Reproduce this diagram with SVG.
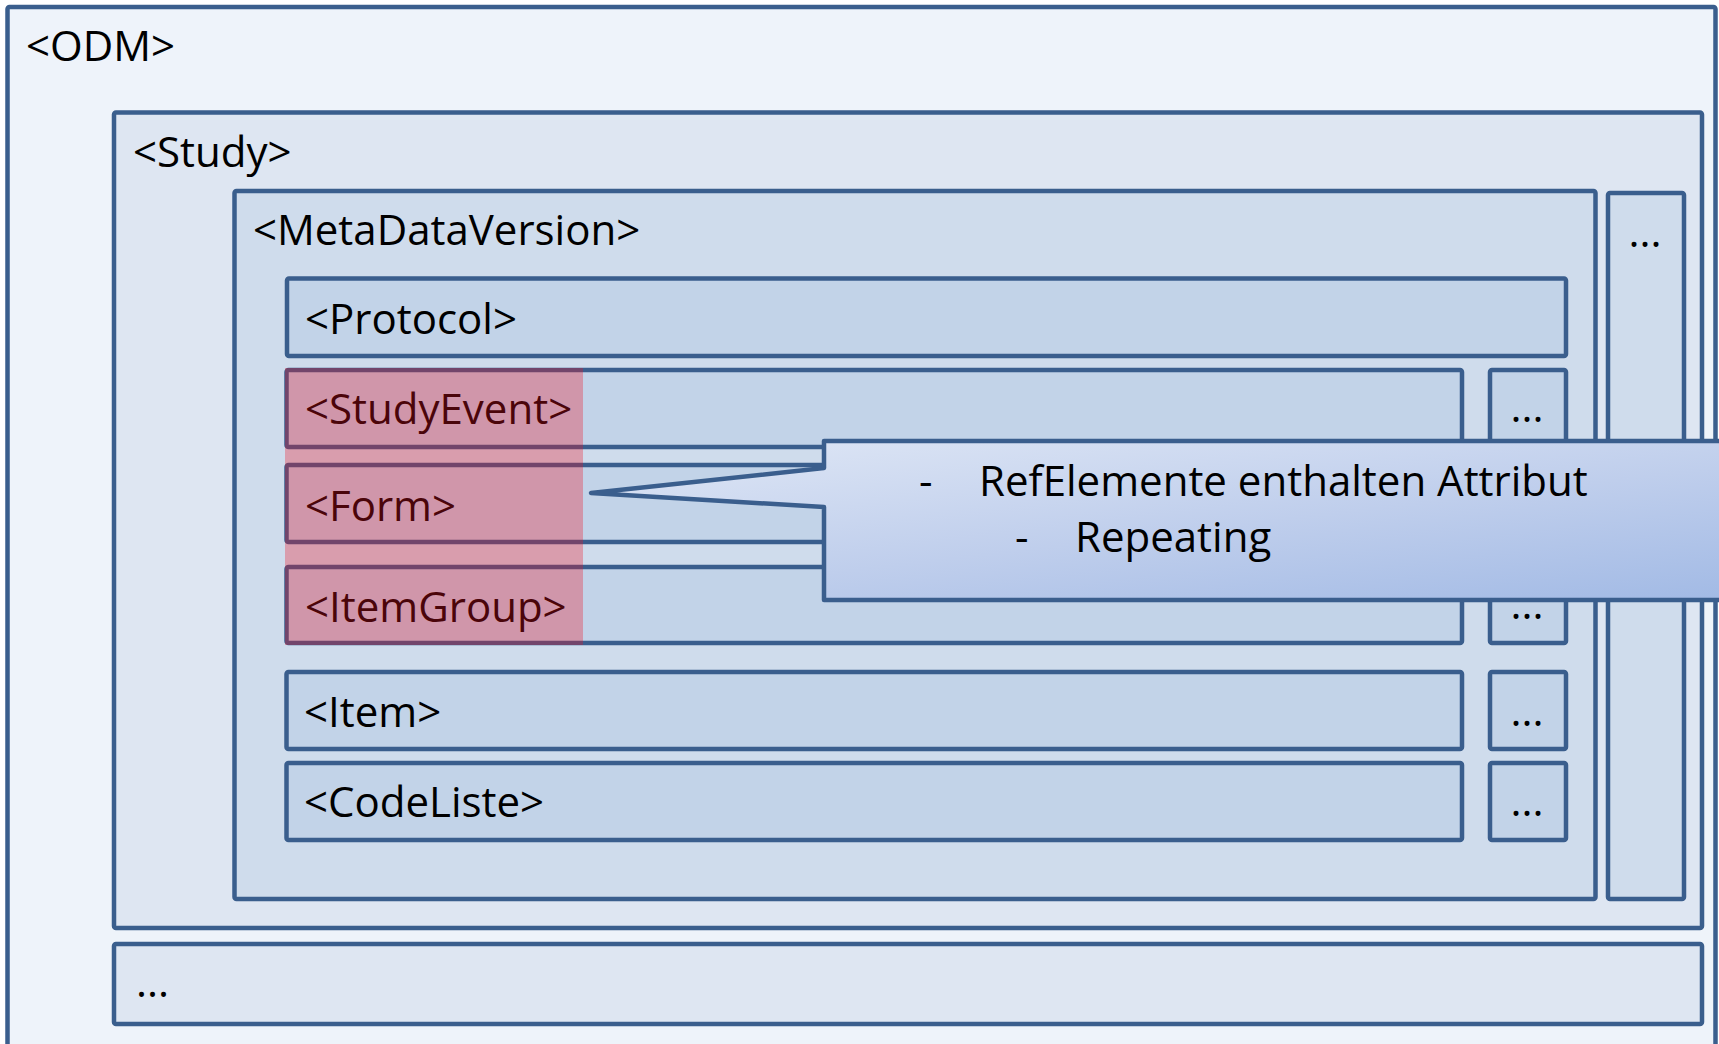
<svg xmlns="http://www.w3.org/2000/svg" width="1719" height="1044" viewBox="0 0 1719 1044">
<defs>
<linearGradient id="callGrad" x1="824" y1="441" x2="855" y2="703" gradientUnits="userSpaceOnUse">
<stop offset="0" stop-color="#DAE3F4"/>
<stop offset="0.5" stop-color="#BFCEEC"/>
<stop offset="1" stop-color="#A2BAE5"/>
</linearGradient>
<style>
.box{stroke:#3A5E8D;stroke-width:4.5;stroke-linejoin:round}
.l0{fill:#EEF3FA}
.l1{fill:#DEE6F2}
.l2{fill:#CFDCEC}
.l3{fill:#C2D3E8}
.t{font-family:"Open Sans","Noto Sans","Liberation Sans",sans-serif;font-size:42px;fill:#000}
.d{font-family:"Open Sans","Noto Sans","Liberation Sans",sans-serif;font-size:42px;fill:#000;text-anchor:middle}
</style>
</defs>
<rect width="1719" height="1044" fill="#FFFFFF"/>
<g id="odm">
<rect class="box l0" x="7.5" y="7" width="1708" height="1100" rx="2"/>
<text class="t" x="26" y="61">&lt;ODM&gt;</text>
</g>
<g id="study">
<rect class="box l1" x="114" y="112.5" width="1588" height="815.5" rx="2"/>
<text class="t" x="133" y="167">&lt;Study&gt;</text>
</g>
<g id="odm-more">
<rect class="box l1" x="114" y="944" width="1588" height="80" rx="2"/>
<text class="t" x="136" y="997">...</text>
</g>
<g id="metadataversion">
<rect class="box l2" x="234.5" y="191" width="1361" height="708" rx="2"/>
<text class="t" x="253" y="245">&lt;MetaDataVersion&gt;</text>
</g>
<g id="study-more">
<rect class="box l2" x="1608" y="193" width="76" height="706" rx="2"/>
<text class="d" x="1645" y="247">...</text>
</g>
<g id="protocol">
<rect class="box l3" x="287" y="278.5" width="1279" height="77.5" rx="2"/>
<text class="t" x="305" y="334">&lt;Protocol&gt;</text>
</g>
<g id="studyevent">
<rect class="box l3" x="286.5" y="370" width="1175.5" height="77" rx="2"/>
<text class="t" x="305" y="424">&lt;StudyEvent&gt;</text>
</g>
<g id="studyevent-more">
<rect class="box l3" x="1490" y="370" width="76" height="77" rx="2"/>
<text class="d" x="1527" y="422">...</text>
</g>
<g id="form">
<rect class="box l3" x="286.5" y="465" width="1175.5" height="77" rx="2"/>
<text class="t" x="305" y="521">&lt;Form&gt;</text>
</g>
<g id="form-more">
<rect class="box l3" x="1490" y="465" width="76" height="77" rx="2"/>
</g>
<g id="itemgroup">
<rect class="box l3" x="286.5" y="567" width="1175.5" height="76" rx="2"/>
<text class="t" x="305" y="622">&lt;ItemGroup&gt;</text>
</g>
<g id="itemgroup-more">
<rect class="box l3" x="1490" y="567" width="76" height="76" rx="2"/>
<text class="d" x="1527" y="619">...</text>
</g>
<g id="item">
<rect class="box l3" x="286.5" y="672" width="1175.5" height="77" rx="2"/>
<text class="t" x="304" y="727">&lt;Item&gt;</text>
</g>
<g id="item-more">
<rect class="box l3" x="1490" y="672" width="76" height="77" rx="2"/>
<text class="d" x="1527" y="726">...</text>
</g>
<g id="codeliste">
<rect class="box l3" x="286.5" y="763" width="1175.5" height="77" rx="2"/>
<text class="t" x="304" y="817">&lt;CodeListe&gt;</text>
</g>
<g id="codeliste-more">
<rect class="box l3" x="1490" y="763" width="76" height="77" rx="2"/>
<text class="d" x="1527" y="816">...</text>
</g>
<g id="highlight">
<rect x="285" y="368" width="298" height="277" fill="#EE1020" fill-opacity="0.31"/>
</g>
<g id="connectors"></g>
<g id="callout">
<path class="box" fill="url(#callGrad)" d="M824,441 H1730 V600 H824 V507 L591,493 L824,468 Z"/>
<text class="t" x="919" y="496">-</text>
<text class="t" x="979" y="496">RefElemente enthalten Attribut</text>
<text class="t" x="1015" y="552">-</text>
<text class="t" x="1075" y="552">Repeating</text>
</g>
</svg>
